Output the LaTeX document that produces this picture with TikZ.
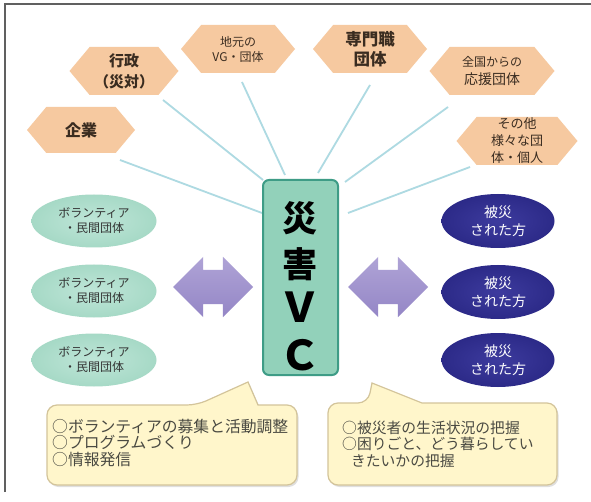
\documentclass[tikz,border=0pt]{standalone}
\usepackage{fontspec}
\setmainfont{Noto Sans CJK JP}
\usetikzlibrary{shapes.symbols,shapes.arrows,shapes.geometric,shadows}
\definecolor{hexfill}{HTML}{F6C9A0}
\definecolor{hextext}{HTML}{3A2C20}
\definecolor{rayc}{HTML}{AEDAE2}
\definecolor{mint}{HTML}{A6D9C6}
\definecolor{mintlight}{HTML}{BFE6D8}
\definecolor{navy}{HTML}{2C2A88}
\definecolor{navylight}{HTML}{3D3B9E}
\definecolor{arrowtop}{HTML}{AFA3D6}
\definecolor{arrowbot}{HTML}{9486C6}
\definecolor{calfill}{HTML}{FFF6CB}
\definecolor{caldraw}{HTML}{D3C49A}
\definecolor{caltext}{HTML}{4A4A42}
\definecolor{vcborder}{HTML}{3E9C86}
\definecolor{vcedge}{HTML}{92D1BA}
\definecolor{vcmid}{HTML}{BDE5D6}
\definecolor{framec}{HTML}{606060}
\tikzset{
  hexa/.style={signal, signal to=east and west, signal pointer angle=100,
    fill=hexfill, inner sep=0pt, align=center, text=hextext},
  ray/.style={draw=rayc, line width=1.8pt},
  volell/.style={ellipse, minimum width=125pt, minimum height=53pt, inner sep=0pt,
    inner color=mintlight, outer color=mint, align=center, text=black!80,
    font=\fontsize{12}{15}\selectfont},
  hisai/.style={ellipse, minimum width=113pt, minimum height=54pt, inner sep=0pt,
    inner color=navylight, outer color=navy, align=center, text=white,
    font=\fontsize{14}{18}\selectfont},
  dblarrow/.style={double arrow, top color=arrowtop, bottom color=arrowbot,
    minimum height=80pt, minimum width=60pt, inner xsep=0pt, inner ysep=17pt,
    double arrow head extend=13pt, double arrow tip angle=90},
  calshape/.style={fill=calfill, draw=caldraw, line width=1.2pt,
    drop shadow={shadow xshift=1.5pt, shadow yshift=-2pt, opacity=0.25}},
  caltxt/.style={anchor=west, inner sep=0pt, align=left, text=caltext},
  vcbox/.style={rectangle, rounded corners=6pt, minimum width=75pt, minimum height=195pt,
    draw=vcborder, line width=2pt, left color=vcedge, middle color=vcmid, right color=vcedge},
  vcchar/.style={inner sep=0pt, text=black, font=\bfseries},
}
\begin{document}
\begin{tikzpicture}[x=1pt,y=-1pt]
\useasboundingbox (0,0) rectangle (591,502);
\fill[white] (0,0) rectangle (591,502);
% frame
\draw[framec, line width=1.5pt] (5,492) -- (5,4) -- (591,4);

% rays
\coordinate (r1a) at (120,160); \coordinate (r1b) at (262,213);
\coordinate (r2a) at (163,100); \coordinate (r2b) at (263,180);
\coordinate (r3a) at (242,82);  \coordinate (r3b) at (285,175);
\coordinate (r4a) at (370,85);  \coordinate (r4b) at (318,173);
\coordinate (r5a) at (448,107); \coordinate (r5b) at (345,182);
\coordinate (r6a) at (470,167); \coordinate (r6b) at (348,213);
\draw[ray] (r1a) -- (r1b);
\draw[ray] (r2a) -- (r2b);
\draw[ray] (r3a) -- (r3b);
\draw[ray] (r4a) -- (r4b);
\draw[ray] (r5a) -- (r5b);
\draw[ray] (r6a) -- (r6b);

% hexagons
\node[hexa, minimum width=108pt, minimum height=46pt, font=\fontsize{16}{19}\selectfont\bfseries] (kigyo) at (81,130) {企業};
\node[hexa, minimum width=109pt, minimum height=48pt, font=\fontsize{15}{21}\selectfont\bfseries] (gyosei) at (124,71) {行政\\（災対）};
\node[hexa, minimum width=114pt, minimum height=48pt, font=\fontsize{12}{15}\selectfont] (jimoto) at (238,49) {地元の\\VG・団体};
\node[hexa, minimum width=114pt, minimum height=48pt, font=\fontsize{16.5}{20}\selectfont\bfseries] (senmon) at (370,49) {専門職\\団体};
\node[hexa, minimum width=125pt, minimum height=48pt, font=\fontsize{14}{18}\selectfont] (zenkoku) at (492,71) {{\fontsize{12}{18}\selectfont 全国からの}\\応援団体};
\node[hexa, minimum width=121pt, minimum height=48pt, font=\fontsize{13}{17}\selectfont] (sonota) at (517,141) {その他\\様々な団\\体・個人};

% center box
\node[vcbox] (vc) at (300.5,277.5) {};
\node[vcchar, font=\fontsize{35}{40}\selectfont\bfseries] (vc1) at (300,218) {災};
\node[vcchar, font=\fontsize{35}{40}\selectfont\bfseries] (vc2) at (300,264) {害};
\node[vcchar, font=\fontsize{41}{46}\selectfont\bfseries] (vc3) at (300,307) {Ｖ};
\node[vcchar, font=\fontsize{41}{46}\selectfont\bfseries] (vc4) at (300,355) {Ｃ};

% left ellipses
\node[volell] (v1) at (94,221) {ボランティア\\・民間団体};
\node[volell] (v2) at (94,291) {ボランティア\\・民間団体};
\node[volell] (v3) at (94,360) {ボランティア\\・民間団体};

% right ellipses
\node[hisai] (h1) at (498,221) {被災\\された方};
\node[hisai] (h2) at (498,292) {被災\\された方};
\node[hisai] (h3) at (498,360) {被災\\された方};

% double arrows
\node[dblarrow] (la) at (213,287) {};
\node[dblarrow] (ra) at (388,287) {};

% callouts
\coordinate (ctipL) at (248,382);
\coordinate (ctipR) at (372,383);
\path[calshape] (47,445) [rounded corners=10pt] -- (47,405) -- (197,405) [sharp corners] -- (ctipL) -- (258,405) [rounded corners=10pt] -- (297,405) -- (297,485) -- (47,485) -- cycle;
\path[calshape] (328,445) [rounded corners=10pt] -- (328,403) -- (368,403) [sharp corners] -- (ctipR) -- (422,403) [rounded corners=10pt] -- (557,403) -- (557,485) -- (328,485) -- cycle;
\node[caltxt, font=\fontsize{15.8}{16.5}\selectfont] (ctL) at (52,443) {○ボランティアの募集と活動調整\\○プログラムづくり\\○情報発信};
\node[caltxt, font=\fontsize{14.8}{16.5}\selectfont] (ctR) at (342,444) {○被災者の生活状況の把握\\○困りごと、どう暮らしてい\\\hspace{0.6em}きたいかの把握};
\end{tikzpicture}
\end{document}
